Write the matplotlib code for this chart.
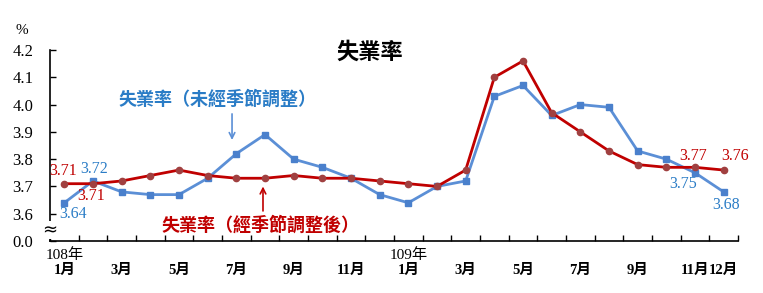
import numpy as np
import matplotlib.pyplot as plt
from matplotlib.transforms import blended_transform_factory

plt.rcParams['font.family'] = ['Liberation Serif', 'Noto Sans CJK TC']

# 108年1月 ~ 109年12月
months = list(range(1, 13)) * 2
unadjusted = [3.64, 3.72, 3.68, 3.67, 3.67, 3.73, 3.82, 3.89, 3.80, 3.77, 3.73, 3.67,
              3.64, 3.70, 3.72, 4.03, 4.07, 3.96, 4.00, 3.99, 3.83, 3.80, 3.75, 3.68]
adjusted = [3.71, 3.71, 3.72, 3.74, 3.76, 3.74, 3.73, 3.73, 3.74, 3.73, 3.73, 3.72,
            3.71, 3.70, 3.76, 4.10, 4.16, 3.97, 3.90, 3.83, 3.78, 3.77, 3.77, 3.76]
ytick_vals = [3.5, 3.6, 3.7, 3.8, 3.9, 4.0, 4.1, 4.2]
ytick_labels = ['0.0', '3.6', '3.7', '3.8', '3.9', '4.0', '4.1', '4.2']
xlabel_idx = [0, 2, 4, 6, 8, 10, 12, 14, 16, 18, 20, 22, 23]

blue = '#5B8FD6'
blue_txt = '#2A7CC6'
red = '#C00000'
red_mk = '#A04040'
cjk = ['Noto Sans CJK TC', 'DejaVu Sans']

x = np.arange(len(months))

fig = plt.figure(figsize=(7.63, 2.93), dpi=100)
ax = fig.add_axes([50 / 763, 1 - 241 / 293, 688 / 763, 191 / 293])

ax.plot(x, unadjusted, color=blue, lw=2, marker='s', ms=5, mfc='#4A80CC', mec='#4A80CC', zorder=3)
ax.plot(x, adjusted, color=red, lw=2, marker='o', ms=4.5, mfc=red_mk, mec=red_mk, zorder=4)

ax.set_xlim(-0.5, 23.5)
ax.set_ylim(3.5, 4.2)
ax.set_yticks(ytick_vals)
ax.set_yticklabels(ytick_labels, fontsize=12)
ax.set_xticks(np.arange(-0.5, 24, 1))
ax.set_xticklabels([])
ax.tick_params(axis='both', direction='in', length=4, width=1)
ax.tick_params(axis='y', pad=12)
for s in ['top', 'right']:
    ax.spines[s].set_visible(False)
for s in ['left', 'bottom']:
    ax.spines[s].set_linewidth(1.2)

# x labels
tr = blended_transform_factory(ax.transData, fig.transFigure)
for i in xlabel_idx:
    ax.text(x[i], 1 - 270 / 293, f'{months[i]}月', transform=tr, ha='center', va='center',
            fontsize=10.5, fontweight='bold', clip_on=False)
ax.text(0, 1 - 255 / 293, '108年', transform=tr, ha='center', va='center', fontsize=11, clip_on=False)
ax.text(12, 1 - 255 / 293, '109年', transform=tr, ha='center', va='center', fontsize=11, clip_on=False)

# axis break
ax.text(-0.5, 3.54, '≈', ha='center', va='center', fontsize=13, family='DejaVu Sans',
        bbox=dict(facecolor='white', edgecolor='none', pad=0), clip_on=False)
fig.text(22 / 763, 1 - 31 / 293, '%', ha='center', va='center', fontsize=11)

fig.text(370 / 763, 1 - 52 / 293, '失業率', fontsize=16, fontweight='bold', family=cjk,
         ha='center', va='center')

# value labels
ax.text(-0.05, 3.755, '3.71', color=red, fontsize=11.5, ha='center', va='center')
ax.text(0.95, 3.666, '3.71', color=red, fontsize=11.5, ha='center', va='center')
ax.text(1.04, 3.765, '3.72', color=blue_txt, fontsize=11.5, ha='center', va='center')
ax.text(0.29, 3.60, '3.64', color=blue_txt, fontsize=11.5, ha='center', va='center')
ax.text(21.93, 3.81, '3.77', color=red, fontsize=11.5, ha='center', va='center')
ax.text(23.4, 3.81, '3.76', color=red, fontsize=11.5, ha='center', va='center')
ax.text(21.57, 3.71, '3.75', color=blue_txt, fontsize=11.5, ha='center', va='center')
ax.text(23.07, 3.633, '3.68', color=blue_txt, fontsize=11.5, ha='center', va='center')

# series names with arrows
ax.text(5.33, 4.02, '失業率（未經季節調整）', color=blue_txt, fontsize=13, fontweight='bold',
        family=cjk, ha='center', va='center')
ax.annotate('', xy=(5.85, 3.86), xytext=(5.85, 3.976),
            arrowprops=dict(arrowstyle='->', color=blue, lw=1.2))
ax.text(6.83, 3.56, '失業率（經季節調整後）', color=red, fontsize=13, fontweight='bold',
        family=cjk, ha='center', va='center')
ax.annotate('', xy=(6.93, 3.71), xytext=(6.93, 3.60),
            arrowprops=dict(arrowstyle='->', color=red, lw=1.2))

fig.savefig('out.png', dpi=100)
